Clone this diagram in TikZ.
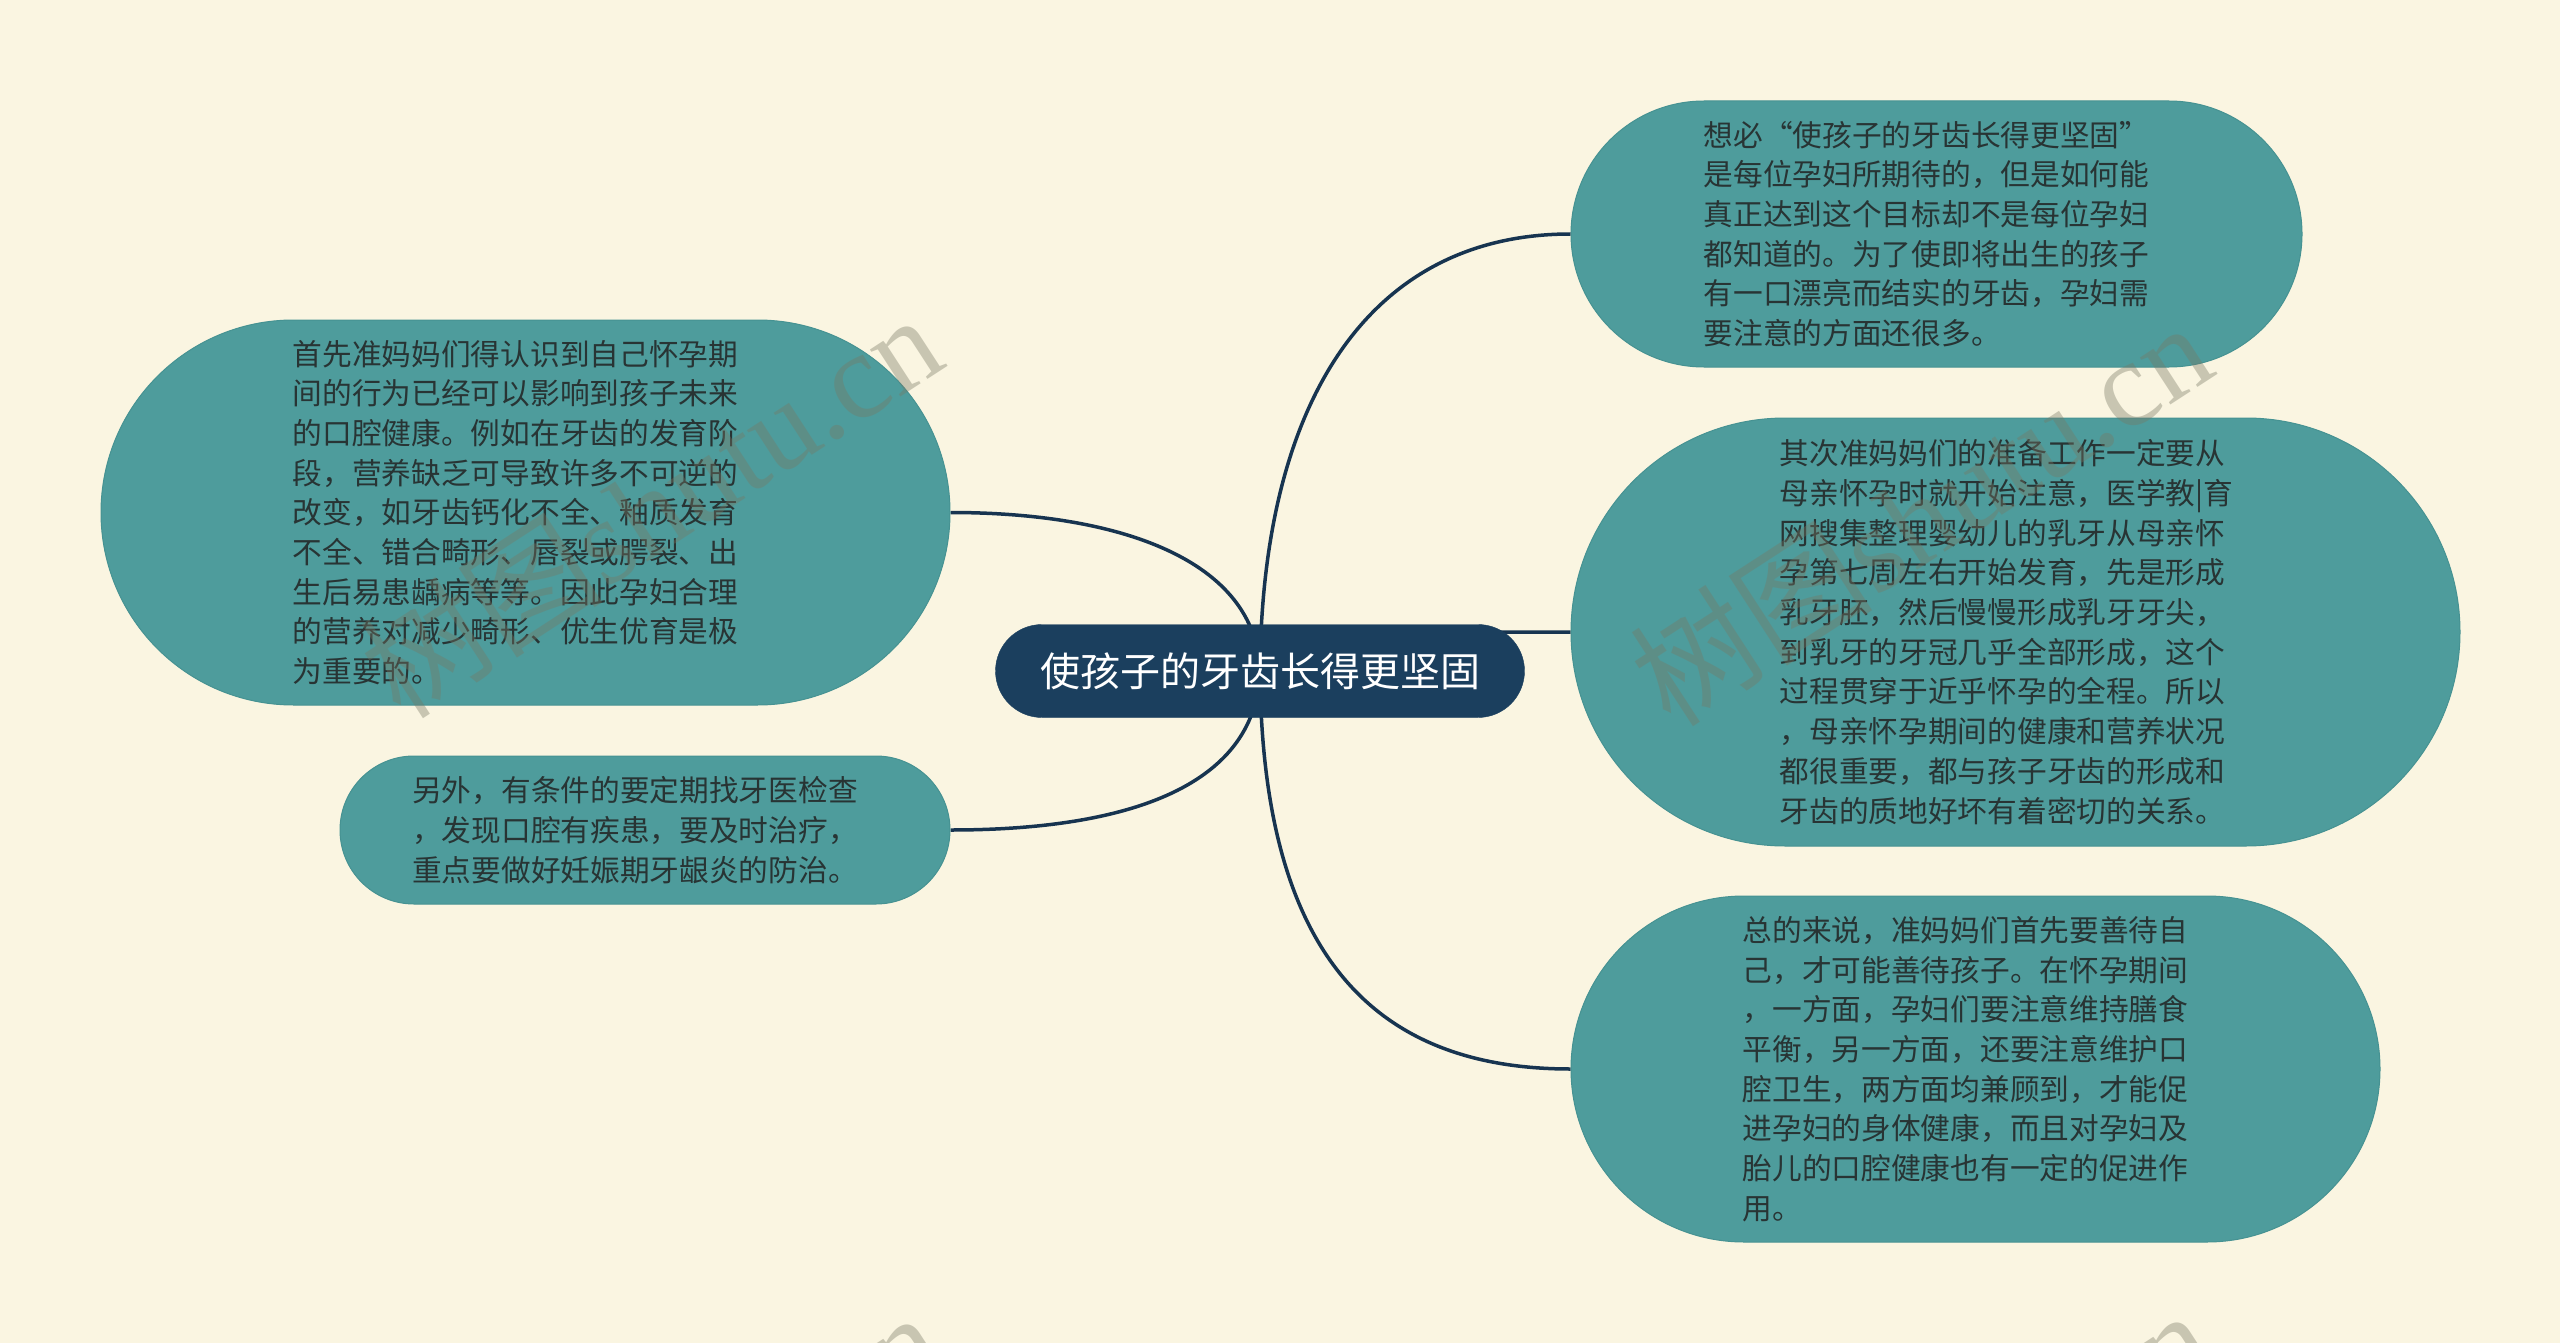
\documentclass[tikz,border=0pt]{standalone}
\usepackage{fontspec}
\setmainfont{Noto Sans CJK SC}
\newfontfamily\wmlatin{Liberation Serif}
\definecolor{bgc}{RGB}{250,245,225}
\definecolor{leaf}{RGB}{78,156,156}
\definecolor{leafedge}{RGB}{70,146,146}
\definecolor{hub}{RGB}{27,63,94}
\definecolor{wirec}{RGB}{23,52,80}
\definecolor{ink}{RGB}{40,52,52}
\definecolor{wmc}{RGB}{120,120,100}
\pgfdeclarelayer{back}
\pgfdeclarelayer{lines}
\pgfsetlayers{back,lines,main}
\begin{document}
\begin{tikzpicture}[x=1pt,y=-1pt,
  leafbox/.style={fill=leaf, draw=leafedge, line width=1pt, inner sep=0pt},
  leaftext/.style={text=ink, align=left, inner sep=0pt,
    font=\fontsize{29.7pt}{39.7pt}\selectfont},
  hubbox/.style={fill=hub, draw=hub, text=white, inner sep=0pt,
    font=\fontsize{40pt}{48pt}\selectfont, minimum width=529pt, minimum height=93pt, rounded corners=46.5pt},
  wire/.style={draw=wirec, line width=3.5pt},
  wmark/.style={text=wmc, opacity=0.38, rotate=33, inner sep=0pt, font=\fontsize{122pt}{130pt}\selectfont}
]
\begin{pgfonlayer}{back}
\fill[bgc] (0,0) rectangle (2560,1343);
\end{pgfonlayer}
\useasboundingbox (0,0) rectangle (2560,1343);

\node[hubbox] (c) at (1260,671) {使孩子的牙齿长得更坚固};

\node[leafbox, minimum width=731pt, minimum height=266pt, rounded corners=133pt] (rt) at (1936.5,234) {};
\node[leaftext] (rtt) at ([xshift=-10pt]rt.center) {想必“使孩子的牙齿长得更坚固”\\是每位孕妇所期待的，但是如何能\\真正达到这个目标却不是每位孕妇\\都知道的。为了使即将出生的孩子\\有一口漂亮而结实的牙齿，孕妇需\\要注意的方面还很多。};

\node[leafbox, minimum width=889pt, minimum height=428pt, rounded corners=214pt] (rm) at (2015.5,632) {};
\node[leaftext] (rmt) at ([xshift=-9pt]rm.center) {其次准妈妈们的准备工作一定要从\\母亲怀孕时就开始注意，医学教|育\\网搜集整理婴幼儿的乳牙从母亲怀\\孕第七周左右开始发育，先是形成\\乳牙胚，然后慢慢形成乳牙牙尖，\\到乳牙的牙冠几乎全部形成，这个\\过程贯穿于近乎怀孕的全程。所以\\，母亲怀孕期间的健康和营养状况\\都很重要，都与孩子牙齿的形成和\\牙齿的质地好坏有着密切的关系。};

\node[leafbox, minimum width=809pt, minimum height=346pt, rounded corners=173pt] (rb) at (1975.5,1069) {};
\node[leaftext] (rbt) at ([xshift=-10pt]rb.center) {总的来说，准妈妈们首先要善待自\\己，才可能善待孩子。在怀孕期间\\，一方面，孕妇们要注意维持膳食\\平衡，另一方面，还要注意维护口\\腔卫生，两方面均兼顾到，才能促\\进孕妇的身体健康，而且对孕妇及\\胎儿的口腔健康也有一定的促进作\\用。};

\node[leafbox, minimum width=849pt, minimum height=385pt, rounded corners=192.5pt] (lt) at (525.5,512.5) {};
\node[leaftext] (ltt) at ([xshift=-10pt]lt.center) {首先准妈妈们得认识到自己怀孕期\\间的行为已经可以影响到孩子未来\\的口腔健康。例如在牙齿的发育阶\\段，营养缺乏可导致许多不可逆的\\改变，如牙齿钙化不全、釉质发育\\不全、错合畸形、唇裂或腭裂、出\\生后易患龋病等等。因此孕妇合理\\的营养对减少畸形、优生优育是极\\为重要的。};

\node[leafbox, minimum width=610pt, minimum height=148pt, rounded corners=74pt] (lb) at (645,830) {};
\node[leaftext] (lbt) at ([xshift=-10pt]lb.center) {另外，有条件的要定期找牙医检查\\，发现口腔有疾患，要及时治疗，\\重点要做好妊娠期牙龈炎的防治。};

\begin{pgfonlayer}{lines}
\path[wire] (c.center) .. controls (1262,400) and (1370,234) .. (rt.west);
\path[wire] (c.center) .. controls (1262,632) and (1300,632) .. (rm.west);
\path[wire] (c.center) .. controls (1262,950) and (1370,1069) .. (rb.west);
\path[wire] (c.center) .. controls (1256,560) and (1120,512.5) .. (lt.east);
\path[wire] (c.center) .. controls (1256,790) and (1120,830) .. (lb.east);
\end{pgfonlayer}

\begin{scope}
\clip (0,0) rectangle (2560,1343);
\node[wmark] (wm1) at (650,505) {树图{\wmlatin shutu.cn}};
\node[wmark] (wm2) at (1920,513) {树图{\wmlatin shutu.cn}};
\node[wmark] (wm3) at (650,1502) {树图{\wmlatin shutu.cn}};
\node[wmark] (wm4) at (1920,1500) {树图{\wmlatin shutu.cn}};
\end{scope}
\end{tikzpicture}
\end{document}
